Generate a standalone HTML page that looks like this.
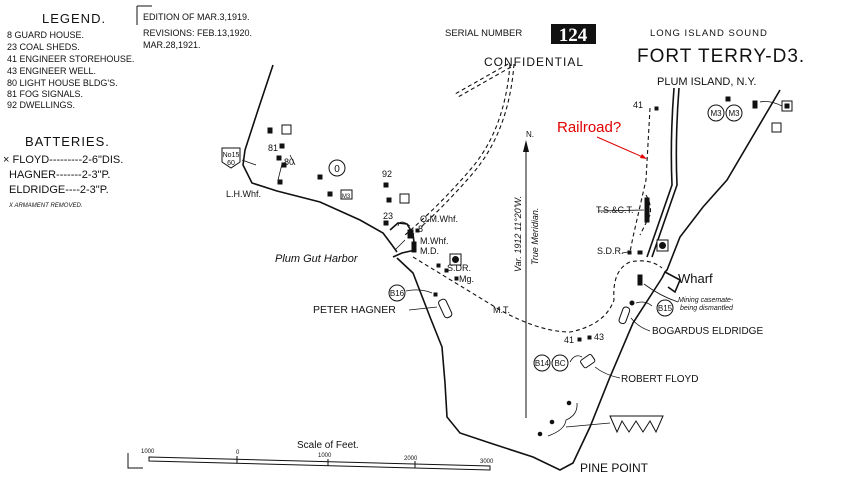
<!DOCTYPE html>
<html><head><meta charset="utf-8"><style>
body{margin:0;background:#fff;}
svg{display:block;font-family:"Liberation Sans",sans-serif;}
.t{font-size:9px;fill:#111;}
</style></head><body>
<svg width="850" height="500" viewBox="0 0 850 500" xmlns="http://www.w3.org/2000/svg">
<rect width="850" height="500" fill="#fff"/>
<!-- Legend -->
<text x="42" y="23" font-size="13" fill="#111" letter-spacing="1">LEGEND.</text>
<g class="t" font-size="8.5">
<text x="7" y="38">8 GUARD HOUSE.</text>
<text x="7" y="50">23 COAL SHEDS.</text>
<text x="7" y="62">41 ENGINEER STOREHOUSE.</text>
<text x="7" y="74">43 ENGINEER WELL.</text>
<text x="7" y="86">80 LIGHT HOUSE BLDG'S.</text>
<text x="7" y="97">81 FOG SIGNALS.</text>
<text x="7" y="108">92 DWELLINGS.</text>
</g>
<text x="25" y="146" font-size="13" fill="#111" letter-spacing="1">BATTERIES.</text>
<g fill="#111" font-size="11">
<text x="3" y="163">× FLOYD---------2-6"DIS.</text>
<text x="9" y="178">HAGNER-------2-3"P.</text>
<text x="9" y="193">ELDRIDGE----2-3"P.</text>
</g>
<text x="9" y="207" font-size="6" font-style="italic" fill="#111">X ARMAMENT REMOVED.</text>
<line x1="137" y1="6" x2="137" y2="25" stroke="#111"/>
<line x1="137" y1="6" x2="152" y2="6" stroke="#111"/>
<g class="t" font-size="9">
<text x="143" y="20">EDITION OF MAR.3,1919.</text>
<text x="143" y="36">REVISIONS: FEB.13,1920.</text>
<text x="143" y="48">MAR.28,1921.</text>
</g>
<!-- header right -->
<text x="445" y="36" font-size="9.5" fill="#111">SERIAL NUMBER</text>
<rect x="551" y="24" width="45" height="20" fill="#111"/>
<text x="573" y="41" font-size="19" fill="#fff" text-anchor="middle" font-family="Liberation Serif,serif" font-weight="bold">124</text>
<text x="484" y="66" font-size="12" fill="#111" letter-spacing="1">CONFIDENTIAL</text>
<text x="650" y="36" font-size="9.5" fill="#111" letter-spacing="1">LONG ISLAND SOUND</text>
<text x="637" y="62" font-size="19" fill="#111" letter-spacing="1">FORT TERRY-D3.</text>
<text x="657" y="85" font-size="11" fill="#111">PLUM ISLAND, N.Y.</text>
<text x="557" y="132" font-size="15" fill="#e00000">Railroad?</text>
<line x1="597" y1="137" x2="645" y2="158" stroke="#e00000" stroke-width="1"/>
<polygon points="647,159 640,158 642,154" fill="#e00000"/>
<!-- coast -->
<g fill="none" stroke="#111" stroke-width="1.6">
<path d="M273,65 L258,110 L245,150 L243,165 L252,183 L277,191 L320,202 L360,220 L383,233 L392,245 L397,252"/>
<path d="M390,230 L398,223 L407,224 L413,234 L415,250 L402,253 L393,257"/>
<path d="M397,258 L413,273 L430,317 L442,347 L445,383 L447,417 L460,433 L490,443 L533,457 L560,470 L573,463 L590,427 L610,377 L633,323 L662,278"/>
<path d="M662,278 L665,272 L680,280 L675,292 L668,287"/>
<path d="M665,272 L667,270 L680,237 L703,207 L727,180 L780,90"/>
<path d="M674,88 Q670,140 672,185 L647,257"/>
<path d="M679,88 Q675,140 677,185 L652,257"/>
</g>
<!-- dashed roads -->
<g fill="none" stroke="#111" stroke-width="1.1" stroke-dasharray="4,3">
<path d="M510,64 Q505,130 470,170 Q440,205 405,235"/>
<path d="M514,64 Q509,130 474,172 Q444,207 409,238"/>
<path d="M508,64 L455,94"/><path d="M511,67 L458,97"/>
<path d="M650,108 L646,180 L633,237 L630,252"/>
<path d="M646,195 Q652,205 650,215 L640,235"/>
<path d="M413,257 L500,310 Q540,332 570,332 Q605,325 614,300 Q612,270 630,262 Q650,258 662,268"/>
</g>
<!-- meridian -->
<line x1="526" y1="145" x2="526" y2="418" stroke="#111" stroke-width="1"/>
<polygon points="526,140 523,152 529,152" fill="#111"/>
<text x="526" y="137" font-size="8" fill="#111">N.</text>
<text transform="translate(521,272) rotate(-90)" font-size="9" font-style="italic" fill="#111">Var. 1912 11°20'W.</text>
<text transform="translate(538,265) rotate(-90)" font-size="9" font-style="italic" fill="#111">True Meridian.</text>
<!-- labels -->
<g class="t">
<text x="226" y="197">L.H.Whf.</text>
<text x="382" y="177">92</text>
<text x="383" y="219">23</text>
<text x="420" y="222">Q.M.Whf.</text>
<text x="418" y="232">8</text>
<text x="420" y="244">M.Whf.</text>
<text x="420" y="254">M.D.</text>
<text x="447" y="271">S.DR.</text>
<text x="459" y="282">Mg.</text>
<text x="493" y="313">M.T.</text>
<text x="596" y="213">T.S.&amp;C.T.</text>
<text x="597" y="254">S.D.R.</text>
<text x="633" y="108">41</text>
<text x="564" y="343">41</text>
<text x="594" y="340">43</text>
<text x="268" y="151">81</text>
<text x="284" y="165">80</text>
</g>
<text x="275" y="262" font-size="11" font-style="italic" fill="#111">Plum Gut Harbor</text>
<text x="678" y="283" font-size="13" fill="#111">Wharf</text>
<text x="678" y="302" font-size="7" font-style="italic" fill="#111">Mining casemate-</text>
<text x="680" y="310" font-size="7" font-style="italic" fill="#111">being dismantled</text>
<text x="313" y="313" font-size="10.5" fill="#111">PETER HAGNER</text>
<text x="652" y="334" font-size="10" fill="#111">BOGARDUS ELDRIDGE</text>
<text x="621" y="382" font-size="10" fill="#111">ROBERT FLOYD</text>
<text x="580" y="472" font-size="12" fill="#111">PINE POINT</text>
<!-- symbols -->
<g fill="#111" stroke="#111">
<rect x="268" y="128" width="4" height="5"/><rect x="282" y="125" width="9" height="9" fill="#fff"/>
<rect x="280" y="144" width="4" height="4"/><rect x="277" y="156" width="4" height="4"/>
<rect x="282" y="163" width="4" height="4"/><rect x="278" y="180" width="4" height="4"/>
<rect x="318" y="175" width="4" height="4"/><rect x="328" y="192" width="4" height="4"/>
<rect x="341" y="190" width="11" height="9" fill="#fff"/>
<circle cx="337" cy="168" r="8" fill="#fff"/>
<rect x="384" y="183" width="4" height="4"/><rect x="387" y="198" width="4" height="4"/>
<rect x="400" y="194" width="9" height="9" fill="#fff"/><rect x="384" y="221" width="4" height="4"/>
<rect x="408" y="230" width="5" height="8"/><rect x="412" y="242" width="4" height="10"/>
<rect x="416" y="229" width="3" height="3"/>
<rect x="450" y="254" width="11" height="11" fill="#fff"/><circle cx="455.5" cy="259.5" r="3"/>
<rect x="437" y="264" width="3" height="3"/><rect x="445" y="269" width="3" height="3"/><rect x="455" y="277" width="3" height="3"/>
<rect x="434" y="293" width="3" height="3"/>
<rect x="645" y="198" width="4" height="24"/>
<rect x="657" y="240" width="11" height="11" fill="#fff"/><circle cx="662.5" cy="245.5" r="3"/>
<rect x="628" y="251" width="3" height="3"/><rect x="638" y="251" width="4" height="3"/>
<rect x="638" y="275" width="4" height="10"/><circle cx="632" cy="303" r="2"/>
<rect x="655" y="107" width="3" height="3"/><rect x="726" y="97" width="4" height="4"/>
<rect x="782" y="101" width="10" height="10" fill="#fff"/><rect x="785" y="104" width="4" height="4"/>
<rect x="772" y="123" width="9" height="9" fill="#fff"/><rect x="753" y="101" width="4" height="7"/>
<rect x="578" y="338" width="3" height="3"/><rect x="588" y="336" width="3" height="3"/>
<circle cx="569" cy="403" r="1.8"/><circle cx="552" cy="422" r="1.8"/><circle cx="540" cy="434" r="1.8"/>
</g>
<g fill="#fff" stroke="#111" stroke-width="1">
<circle cx="716" cy="113" r="8"/><circle cx="734" cy="113" r="8"/>
<circle cx="397" cy="293" r="8"/>
<circle cx="665" cy="308" r="8"/>
<circle cx="542" cy="363" r="8"/><circle cx="560" cy="363" r="8"/>
<rect x="441" y="299" width="8" height="19" rx="3" transform="rotate(-25 445 308)"/>
<rect x="621" y="307" width="7" height="17" rx="3" transform="rotate(20 625 315)"/>
<rect x="581" y="357" width="13" height="9" rx="2" transform="rotate(-35 587 361)"/>
<path d="M222,148 L240,148 L240,162 L231,168 L222,162 Z"/>
<path d="M610,416 L663,416 L656,432 L650,421 L643,432 L636,421 L629,432 L622,421 L617,432 Z"/>
</g>
<g font-size="8" fill="#111" text-anchor="middle">
<text x="716" y="116">M3</text><text x="734" y="116">M3</text>
<text x="397" y="296">B16</text><text x="665" y="311">B15</text>
<text x="542" y="366">B14</text><text x="560" y="366">BC</text>
<text x="231" y="157" font-size="7">No15</text><text x="231" y="165" font-size="7">60</text>
<text x="337" y="172" font-size="10">0</text><text x="346" y="198" font-size="6">M3</text>
</g>
<!-- arrows -->
<g fill="none" stroke="#111" stroke-width="0.8">
<path d="M242,160 L256,165"/><path d="M290,155 L295,165"/><path d="M282,164 L278,180"/>
<path d="M410,226 Q400,218 398,226"/><path d="M395,250 L405,240"/>
<path d="M598,211 L644,210"/><path d="M406,291 Q420,288 432,293"/>
<path d="M409,310 L437,307"/><path d="M622,253 L628,252"/>
<path d="M678,302 Q660,296 644,284"/><path d="M652,306 Q645,300 636,303"/>
<path d="M650,331 Q638,327 631,318"/>
<path d="M620,378 Q605,375 595,367"/><path d="M570,362 Q575,353 582,357"/>
<path d="M577,403 Q578,415 566,420 Q565,430 548,436"/>
<path d="M566,427 L610,423"/>
<path d="M782,106 Q770,100 760,102"/>
</g>
<!-- scale -->
<g stroke="#111" fill="none">
<path d="M128,453 L128,468 L143,468"/>
<path d="M149,457 L490,466 L490,470 L149,461 Z"/>
<line x1="237" y1="456" x2="237" y2="463"/><line x1="328" y1="459" x2="328" y2="466"/>
<line x1="415" y1="461" x2="415" y2="468"/>
</g>
<g font-size="6" fill="#111">
<text x="141" y="453">1000</text><text x="236" y="454">0</text><text x="318" y="457">1000</text>
<text x="404" y="460">2000</text><text x="480" y="463">3000</text>
</g>
<text x="297" y="448" font-size="10" fill="#111">Scale of Feet.</text>
</svg>
</body></html>
